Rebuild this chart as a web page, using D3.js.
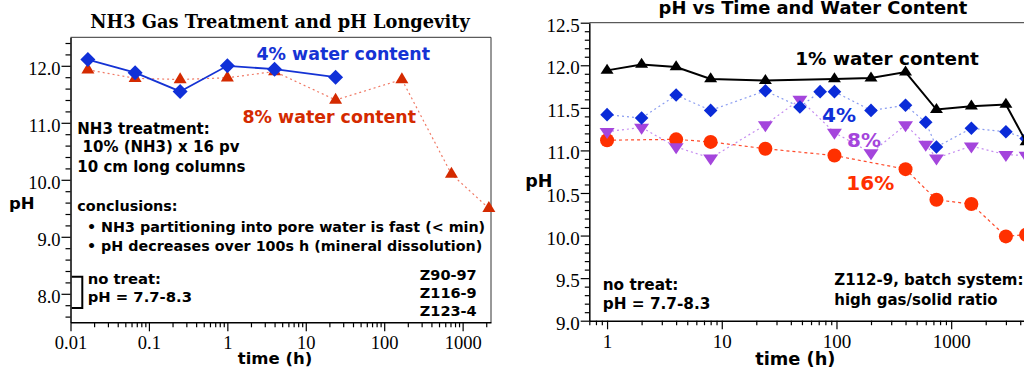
<!DOCTYPE html>
<html><head><meta charset="utf-8">
<script src="https://cdn.jsdelivr.net/npm/d3@7"></script>
<style>body{margin:0;background:#fff;} svg{display:block;} text{white-space:pre;}</style>
</head><body>
<svg id="c" width="1024" height="371"></svg>
<script>
// ---------- Left chart data ----------
const leftTime4 = [1/60, 4/60, 0.25, 1, 4, 24];
const leftPH4   = [12.11, 11.88, 11.55, 12.00, 11.94, 11.80];
const leftTime8 = [1/60, 4/60, 0.25, 1, 4, 24, 168, 720, 2160];
const leftPH8   = [11.93, 11.78, 11.76, 11.79, 11.90, 11.40, 11.76, 10.10, 9.50];
const leftYTicks = [8, 9, 10, 11, 12];
const leftXTicks = [0.01, 0.1, 1, 10, 100, 1000];
const leftXLabels = ["0.01", "0.1", "1", "10", "100", "1000"];
const bracketRange = [7.75, 8.3];

// ---------- Right chart data ----------
const rTime1  = [1, 2, 4, 8, 24, 96, 200, 400, 744, 1500, 3000, 4500];
const rPH1    = [11.94, 12.01, 11.98, 11.84, 11.82, 11.84, 11.85, 11.92, 11.48, 11.52, 11.54, 11.10];
const rTime4  = [1, 2, 4, 8, 24, 48, 72, 96, 200, 400, 600, 744, 1500, 3000, 4500];
const rPH4    = [11.42, 11.38, 11.65, 11.47, 11.70, 11.51, 11.69, 11.69, 11.47, 11.53, 11.33, 11.04, 11.26, 11.22, 11.14];
const rTime8  = [1, 2, 4, 8, 24, 48, 96, 200, 400, 600, 744, 1500, 3000, 4500];
const rPH8    = [11.22, 11.27, 11.04, 10.91, 11.30, 11.60, 11.21, 10.97, 11.30, 11.07, 10.91, 11.05, 10.95, 10.94];
const rTime16 = [1, 4, 8, 24, 96, 400, 744, 1500, 3000, 4500];
const rPH16   = [11.12, 11.13, 11.10, 11.02, 10.94, 10.78, 10.42, 10.37, 9.99, 10.01];
const rightYTicks = [9.0, 9.5, 10.0, 10.5, 11.0, 11.5, 12.0, 12.5];
const rightXTicks = [1, 10, 100, 1000];
const rightXLabels = ["1", "10", "100", "1000"];

const svg = d3.select("#c");
const SANS = "'DejaVu Sans', Verdana, sans-serif";
const SERIF = "'Liberation Serif', 'Times New Roman', serif";

function minorLog(lo, hi) {
  const out = [];
  for (let e = Math.floor(Math.log10(lo)); e <= Math.ceil(Math.log10(hi)); e++) {
    for (let m = 2; m <= 9; m++) {
      const v = m * Math.pow(10, e);
      if (v >= lo * 0.9999 && v <= hi * 1.0001) out.push(v);
    }
  }
  return out;
}
function range(a, b, step) {
  const out = []; const n = Math.round((b - a) / step);
  for (let i = 0; i <= n; i++) out.push(+(a + i * step).toFixed(4));
  return out;
}
const diamond = r => `M0,${-r}L${r},0L0,${r}L${-r},0Z`;
const triUp = (w, h) => `M0,${-h*2/3}L${w/2},${h/3}L${-w/2},${h/3}Z`;
const triDown = (w, h) => `M0,${h*2/3}L${w/2},${-h/3}L${-w/2},${-h/3}Z`;

function drawChart(cfg) {
  const g = svg.append("g");
  const x = d3.scaleLog().domain(cfg.xDomain).range(cfg.xRange);
  const y = d3.scaleLinear().domain(cfg.yDomain).range(cfg.yRange);
  const [x0, x1] = cfg.xRange, [yb, yt] = cfg.yRange;
  g.append("path").attr("d", `M${x0},${yt}H${x1}V${yb}`).attr("fill", "none")
    .attr("stroke", "#333").attr("stroke-width", 1);
  g.append("g").attr("transform", `translate(${x0},0)`)
    .call(d3.axisLeft(y).tickValues(cfg.yMinor).tickSize(cfg.minorLen).tickFormat("").tickSizeOuter(0))
    .call(a => a.select(".domain").remove())
    .selectAll("line").attr("stroke", "#000").attr("stroke-width", 1.2);
  const ya = g.append("g").attr("transform", `translate(${x0},0)`)
    .call(d3.axisLeft(y).tickValues(cfg.yTicks).tickSize(cfg.majorLen).tickSizeOuter(0)
      .tickFormat(d3.format(".1f")));
  ya.select(".domain").attr("stroke", "#000").attr("stroke-width", 1.5);
  ya.selectAll("line").attr("stroke", "#000").attr("stroke-width", 1.2);
  ya.selectAll("text").attr("font-family", SERIF).attr("font-size", cfg.tickFont).attr("fill", "#000")
    .attr("x", -cfg.majorLen - 1).attr("dy", "0.45em");
  g.append("g").attr("transform", `translate(0,${yb})`)
    .call(d3.axisBottom(x).tickValues(cfg.xMinor).tickSize(cfg.minorLen).tickFormat("").tickSizeOuter(0))
    .call(a => a.select(".domain").remove())
    .selectAll("line").attr("stroke", "#000").attr("stroke-width", 1.2);
  const xa = g.append("g").attr("transform", `translate(0,${yb})`)
    .call(d3.axisBottom(x).tickValues(cfg.xTicks).tickSize(cfg.majorLen).tickSizeOuter(0)
      .tickFormat((d, i) => cfg.xLabels[i]));
  xa.select(".domain").attr("stroke", "#000").attr("stroke-width", 1.5);
  xa.selectAll("line").attr("stroke", "#000").attr("stroke-width", 1.2);
  xa.selectAll("text").attr("font-family", SERIF).attr("font-size", cfg.tickFont).attr("fill", "#000")
    .attr("y", cfg.majorLen + 5).attr("dy", "0.71em");
  return { g, x, y };
}

function series(c, xs, ys, lineStyle, marker) {
  const pts = xs.map((t, i) => [c.x(t), c.y(ys[i])]);
  c.g.append("path").attr("d", d3.line()(pts)).attr("fill", "none")
    .attr("stroke", lineStyle.color).attr("stroke-width", lineStyle.width)
    .attr("stroke-dasharray", lineStyle.dash || null);
  c.g.append("g").selectAll("path").data(pts).join("path")
    .attr("transform", d => `translate(${d[0]},${d[1]})`)
    .attr("d", marker.path).attr("fill", marker.color);
}

function label(txt, x, y, size, color, anchor, family) {
  svg.append("text").attr("x", x).attr("y", y).attr("font-family", family || SANS)
    .attr("font-weight", "bold").attr("font-size", size).attr("fill", color)
    .attr("text-anchor", anchor || "start").text(txt);
}

// ===== Left chart =====
const L = drawChart({
  xDomain: [0.01, 2300], xRange: [70.5, 491],
  yDomain: [7.5, 12.5], yRange: [322.3, 37.3],
  yTicks: leftYTicks, yMinor: range(7.6, 12.4, 0.2).filter(v => Math.abs(v - Math.round(v)) > 1e-6),
  xTicks: leftXTicks, xLabels: leftXLabels, xMinor: minorLog(0.01, 2300),
  majorLen: 9, minorLen: 5, tickFont: 18.5
});
series(L, leftTime8, leftPH8, { color: "#f07a66", width: 1.2, dash: "2,3" },
  { path: triUp(13, 11), color: "#d42a00" });
series(L, leftTime4, leftPH4, { color: "#1533d4", width: 1.8 },
  { path: diamond(7.5), color: "#1030d8" });
const bx0 = 71.7, bx1 = 82.3;
svg.append("path")
  .attr("d", `M${bx0},${L.y(bracketRange[1])}H${bx1}V${L.y(bracketRange[0])}H${bx0}`)
  .attr("fill", "none").attr("stroke", "#000").attr("stroke-width", 2);

label("NH3 Gas Treatment and pH Longevity", 280, 28, 17.8, "#000", "middle", "'DejaVu Serif', serif");
label("4% water content", 256.5, 60, 17.4, "#1533d4");
label("8% water content", 242.5, 123, 17.4, "#d42a00");
label("NH3 treatment:", 77.3, 133.5, 15, "#000");
label(" 10% (NH3) x 16 pv", 77.3, 152, 15, "#000");
label("10 cm long columns", 77.3, 171.5, 15, "#000");
label("conclusions:", 77.3, 211, 14.4, "#000");
label("• NH3 partitioning into pore water is fast (< min)", 87, 232, 14.3, "#000");
label("• pH decreases over 100s h (mineral dissolution)", 87, 251, 14.3, "#000");
label("no treat:", 87.7, 283.5, 14.8, "#000");
label("pH = 7.7-8.3", 87.7, 302, 14.8, "#000");
label("Z90-97", 476.7, 279.5, 14.5, "#000", "end");
label("Z116-9", 476.7, 297.5, 14.5, "#000", "end");
label("Z123-4", 476.7, 316, 14.5, "#000", "end");
label("pH", 9, 208.5, 16.5, "#000");
label("time (h)", 275, 364, 16.5, "#000", "middle");

// ===== Right chart =====
const R = drawChart({
  xDomain: [0.7, 5600], xRange: [589.3, 1037],
  yDomain: [9, 12.5], yRange: [320.7, 22.7],
  yTicks: rightYTicks, yMinor: range(9.1, 12.4, 0.1).filter(v => Math.abs(v * 2 - Math.round(v * 2)) > 1e-6),
  xTicks: rightXTicks, xLabels: rightXLabels, xMinor: minorLog(0.7, 5600),
  majorLen: 8.6, minorLen: 4.5, tickFont: 19
});
series(R, rTime16, rPH16, { color: "#ff4a2a", width: 1.2, dash: "3,3" },
  { path: d3.symbol(d3.symbolCircle, Math.PI * 7 * 7)(), color: "#ff3000" });
series(R, rTime8, rPH8, { color: "#c58cf0", width: 1.2, dash: "2,3" },
  { path: triDown(15, 11), color: "#a445dc" });
series(R, rTime4, rPH4, { color: "#8a9cf0", width: 1.2, dash: "2,3" },
  { path: diamond(6.8), color: "#0a2bd8" });
series(R, rTime1, rPH1, { color: "#000", width: 2 },
  { path: triUp(13, 10), color: "#000" });

label("pH vs Time and Water Content", 813, 14, 17.9, "#000", "middle");
label("1% water content", 795.3, 65, 18.4, "#000");
label("4%", 822, 121.5, 20, "#1030d8");
label("8%", 847, 146.5, 20, "#a445dc");
label("16%", 846.3, 190, 20, "#ff3000");
label("no treat:", 602.7, 290, 15.3, "#000");
label("pH = 7.7-8.3", 602.7, 308.5, 15.3, "#000");
label("Z112-9, batch system:", 834.3, 285, 15, "#000");
label("high gas/solid ratio", 834.3, 305, 15, "#000");
label("pH", 525.3, 186.5, 17.5, "#000");
label("time (h)", 795.3, 365, 17.8, "#000", "middle");
</script>
</body></html>
